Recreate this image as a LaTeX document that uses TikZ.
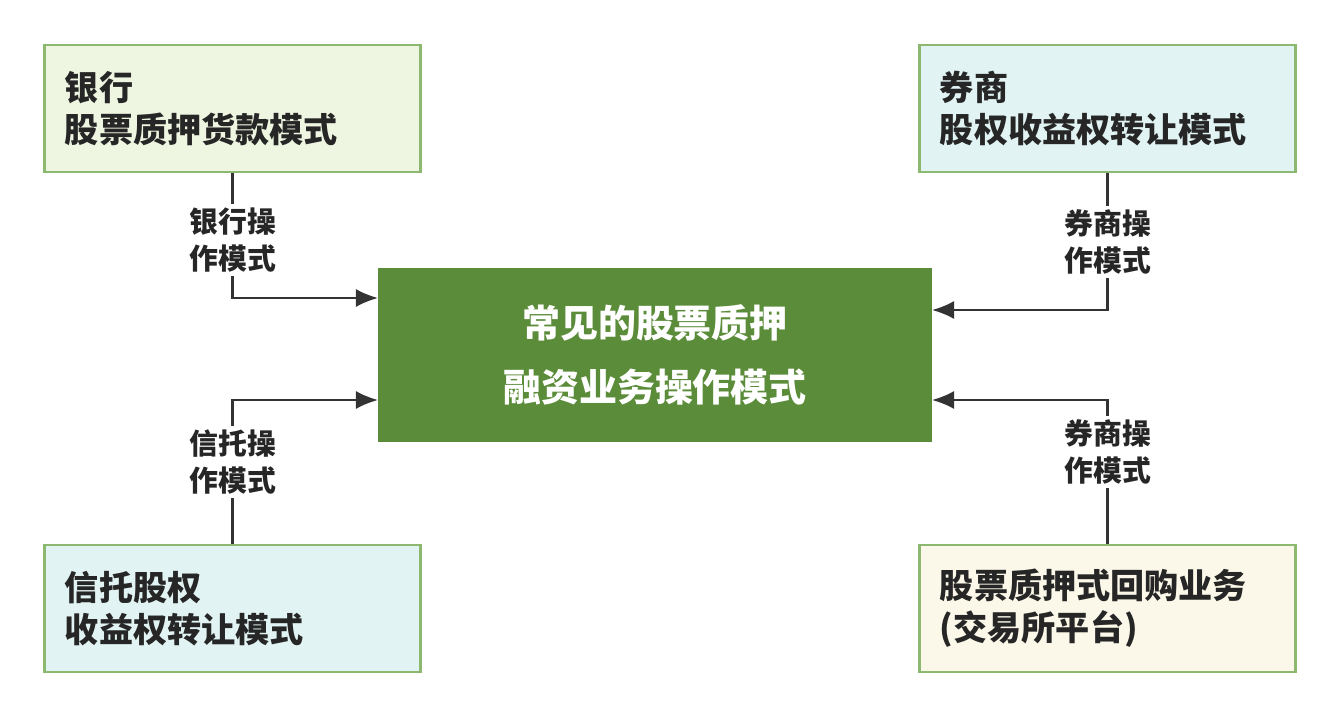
\documentclass[tikz,border=0pt]{standalone}
\usepackage{fontspec}
\setmainfont{Noto Sans CJK SC}
\usetikzlibrary{arrows.meta}
\definecolor{boxline}{HTML}{8DB870}
\definecolor{greenfill}{HTML}{EEF5E1}
\definecolor{cyanfill}{HTML}{E1F3F2}
\definecolor{creamfill}{HTML}{FBF8E9}
\definecolor{maingreen}{HTML}{5B8C3A}
\tikzset{
  modebox/.style={draw=boxline, line width=0.8pt, minimum width=3.75cm, minimum height=1.27cm,
    text width=3.35cm, align=left, font=\fontsize{9.7}{12}\selectfont\bfseries, text=black!85},
  tag/.style={fill=white, align=center, inner sep=1pt, font=\fontsize{8.2}{10.5}\selectfont\bfseries, text=black!85},
  link/.style={draw=black!80, line width=0.6pt, -{Latex[length=2.2mm, width=1.8mm]}}
}
\begin{document}
\begin{tikzpicture}[x=0.01cm, y=-0.01cm]
  \useasboundingbox[fill=white] (0,0) rectangle (1342,718);
  \node[fill=maingreen, minimum width=5.54cm, minimum height=1.74cm, align=center,
    font=\fontsize{10.8}{18}\selectfont\bfseries, text=white] (core) at (655,355) {常见的股票质押\\融资业务操作模式};
  \node[modebox, fill=greenfill] (bank) at (232.5,108.5) {银行\\股票质押货款模式};
  \node[modebox, fill=cyanfill] (broker) at (1107.5,108.5) {券商\\股权收益权转让模式};
  \node[modebox, fill=cyanfill] (trust) at (232.5,608.5) {信托股权\\收益权转让模式};
  \node[modebox, fill=creamfill] (repo) at (1107.5,608.5) {股票质押式回购业务\\(交易所平台)};
  \coordinate (c1) at (378,298);
  \coordinate (c2) at (378,400);
  \coordinate (c3) at (932,310);
  \coordinate (c4) at (932,400);
  \draw[link] (bank.south) |- (c1);
  \draw[link] (trust.north) |- (c2);
  \draw[link] (broker.south) |- (c3);
  \draw[link] (repo.north) |- (c4);
  \node[tag] (t1) at (233,240) {银行操\\作模式};
  \node[tag] (t2) at (233,462) {信托操\\作模式};
  \node[tag] (t3) at (1108,242) {券商操\\作模式};
  \node[tag] (t4) at (1108,452) {券商操\\作模式};
\end{tikzpicture}
\end{document}
